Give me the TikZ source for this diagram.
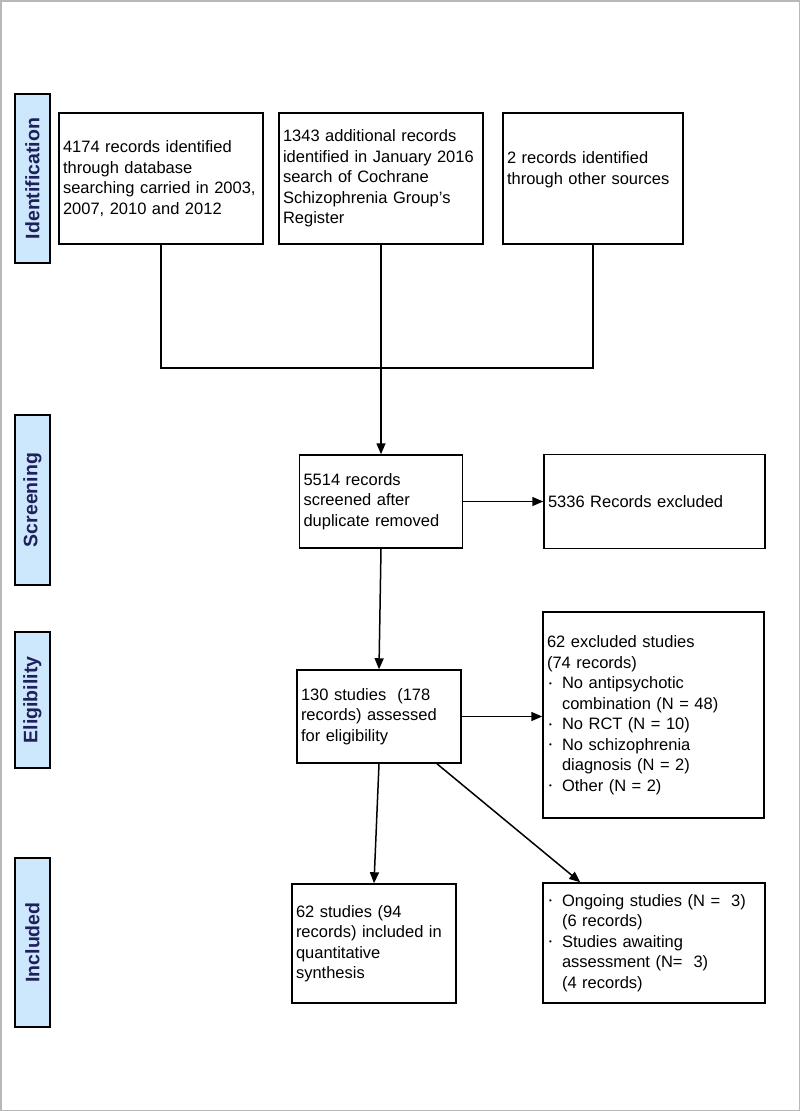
\documentclass[tikz,border=0pt]{standalone}
\usepackage{fontspec}
\setmainfont{Liberation Sans}
\usepackage{xcolor}
\usepackage{tikz}
\usetikzlibrary{positioning,arrows.meta,calc}
\definecolor{StageBlue}{RGB}{205,232,252}
\definecolor{StageNavy}{RGB}{30,32,92}
\definecolor{FrameGray}{RGB}{184,184,184}
\newcommand{\pdot}{\makebox[15pt][l]{\hspace{2pt}\raisebox{2.5pt}{\fontsize{8}{8}\selectfont\textbullet}}}
\newcommand{\pgap}{\hspace*{15pt}}

\begin{document}
\begin{tikzpicture}[
    x=1pt, y=-1pt,
    font=\fontsize{16.5}{20.5}\selectfont,
    link/.style={line width=1.5pt, draw=black},
    flow/.style={-{Triangle[length=11pt,width=9pt]}, line width=1.5pt, draw=black},
    box/.style={
        draw=black,
        line width=1.5pt,
        fill=white,
        align=left,
        inner xsep=4pt,
        inner ysep=3pt
    },
    stage/.style={
        draw=black,
        line width=1.5pt,
        fill=StageBlue,
        text=StageNavy,
        font=\fontsize{19.5}{22}\selectfont\bfseries,
        rotate=90,
        inner sep=0pt,
        minimum height=35pt
    }
]

% Page size and thin grey frame round the figure.
\useasboundingbox (0,0) rectangle (800,1111);
\draw[FrameGray, line width=1.5pt] (0.75,0.75) rectangle (799.25,1110.25);

% Stage labels down the left edge.
\node[stage, minimum width=169pt] (identification) at (32.5,178.5) {Identification};
\node[stage, minimum width=170pt] (screening) at (32.5,500) {Screening};
\node[stage, minimum width=136pt] (eligibility) at (32.5,700) {Eligibility};
\node[stage, minimum width=169pt] (included) at (32.5,942.5) {Included};

% Identification: three record sources.
\node[box, text width=196pt, minimum height=131pt] (database) at (161,178.5) {4174 records identified\\
through database\\
searching carried in 2003,\\
2007, 2010 and 2012};
\node[box, text width=196pt, minimum height=131pt] (register) at (381,178.5) {1343 additional records\\
identified in January 2016\\
search of Cochrane\\
Schizophrenia Group's\\
Register};
\node[box, text width=172pt, minimum height=131pt] (other) at (593,178.5) {2 records identified\\
through other sources\\
\mbox{}};

% Screening.
\node[box, text width=155pt, minimum height=93pt] (screened) at (381,501.5) {5514 records\\
screened after\\
duplicate removed};
\node[box, text width=213pt, minimum height=94pt, right=80pt of screened] (excluded) {5336 Records excluded};

% Eligibility.
\node[box, text width=156pt, minimum height=93pt] (assessed) at (379,716.5) {130 studies \ (178\\
records) assessed\\
for eligibility};
\node[box, text width=213pt, minimum height=206pt] (studiesout) at (653.5,715) {62 excluded studies\\
(74 records)\\
\pdot No antipsychotic\\
\pgap combination (N = 48)\\
\pdot No RCT (N = 10)\\
\pdot No schizophrenia\\
\pgap diagnosis (N = 2)\\
\pdot Other (N = 2)};

% Included.
\node[box, text width=156pt, minimum height=119pt] (synthesis) at (374,943.5) {62 studies (94\\
records) included in\\
quantitative\\
synthesis};
\node[box, text width=214pt, minimum height=120pt] (ongoing) at (654,943) {\pdot Ongoing studies (N = \ 3)\\
\pgap (6 records)\\
\pdot Studies awaiting\\
\pgap assessment (N= \ 3)\\
\pgap (4 records)};

% Sources merge into one line.
\coordinate (merge) at (381,368);
\draw[link] (database.south) -- (database.south |- merge) -- (other.south |- merge) -- (other.south);
\draw[flow] (register.south) -- (screened.north);

% Flow through the stages.
\draw[flow] (screened.east) -- (excluded.west);
\draw[flow] (screened.south) -- (assessed.north);
\draw[flow] (assessed.east) -- (assessed.east -| studiesout.west);
\draw[flow] (assessed.south) -- (synthesis.north);
\draw[flow] ($(assessed.south west)!0.85!(assessed.south east)$) -- ($(ongoing.north west)!0.17!(ongoing.north east)$);

\end{tikzpicture}
\end{document}
